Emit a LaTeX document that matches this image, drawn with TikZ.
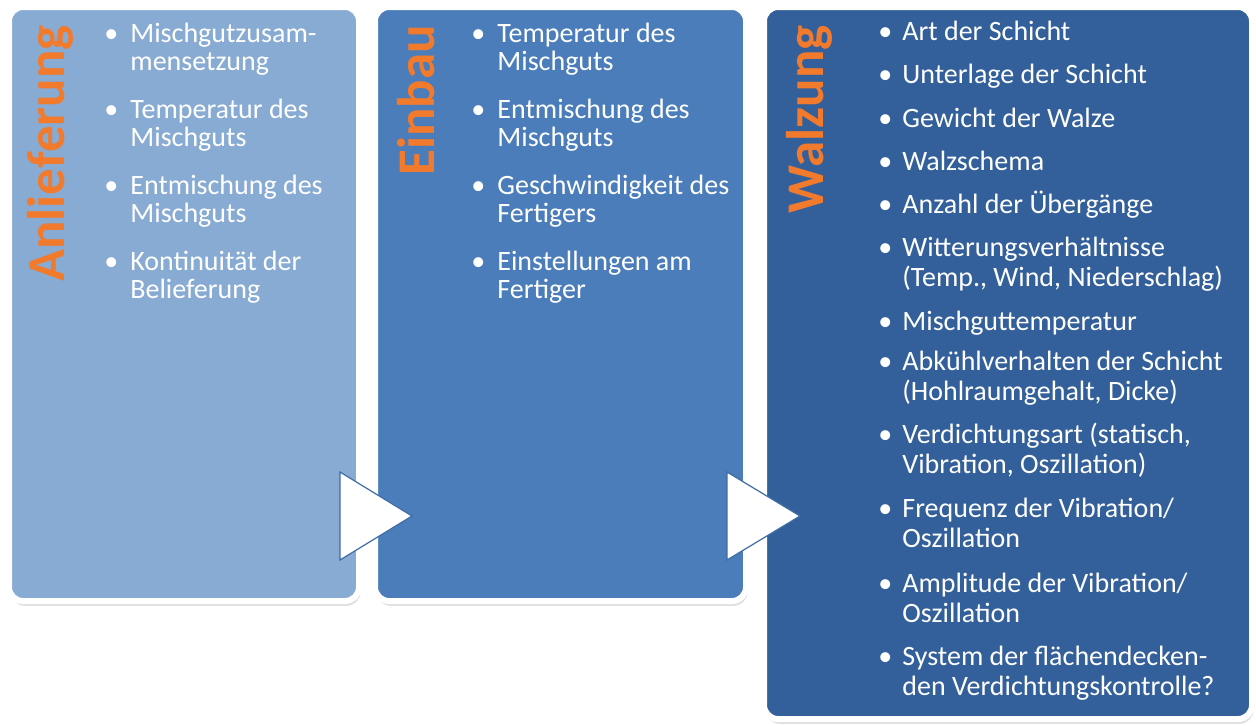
\documentclass[tikz,border=0pt]{standalone}
\usepackage{fontspec}
\setmainfont{Carlito}
\usepackage{tikz}
\usetikzlibrary{shadows,backgrounds}
\definecolor{anlblue}{HTML}{88ABD3}
\definecolor{einblue}{HTML}{4A7DBA}
\definecolor{walblue}{HTML}{33609A}
\definecolor{rimblue}{HTML}{3E6DA6}
\definecolor{titleorange}{HTML}{F27A2C}
\newcommand{\rim}{3pt}
\newcommand{\corner}{7pt}
\newcommand{\itemfont}{\fontsize{14}{14}\selectfont}
\newcommand{\walzfont}{\fontsize{14}{15}\selectfont}
\newcommand{\titlefont}{\fontsize{26.5}{30}\selectfont\bfseries}
\newcommand{\bul}[2]{\llap{\textbullet\hspace{#1}}\begin{tabular}[t]{@{}l@{}}#2\end{tabular}}

\begin{document}
\begin{tikzpicture}[x=0.5pt,y=-0.5pt,
  panel/.style={draw=white,line width=\rim,rounded corners=\corner,
    drop shadow={shadow xshift=0.8pt,shadow yshift=-2.4pt,opacity=0.25}},
  title/.style={rotate=90,anchor=base east,inner sep=0pt,text=titleorange,font=\titlefont},
  entry/.style={anchor=base west,inner sep=0pt,text=white,font=\itemfont},
  wentry/.style={anchor=base west,inner sep=0pt,text=white,font=\walzfont},
  tri/.style={fill=white,draw=rimblue,line width=0.6pt,line join=miter}]
\useasboundingbox[fill=white] (0,0) rectangle (1256,725);
%panels
\path[panel,fill=anlblue] (9,7) rectangle (359,601);
\path[panel,fill=einblue] (375,7) rectangle (746,601);
\path[panel,fill=walblue] (764,7) rectangle (1252,719);
%titles
\node[title] (t1) at (64,25) {Anlieferung};
\node[title] (t2) at (434,25) {Einbau};
\node[title] (t3) at (823,25) {Walzung};
%Anlieferung
\node[entry] (a1) at (130,42) {\bul{6pt}{Mischgutzusam-\\mensetzung}};
\node[entry] (a2) at (130,118) {\bul{6pt}{Temperatur des\\Mischguts}};
\node[entry] (a3) at (130,194) {\bul{6pt}{Entmischung des\\Mischguts}};
\node[entry] (a4) at (130,270) {\bul{6pt}{Kontinuität der\\Belieferung}};
%Einbau
\node[entry] (e1) at (497,42) {\bul{6pt}{Temperatur des\\Mischguts}};
\node[entry] (e2) at (497,118) {\bul{6pt}{Entmischung des\\Mischguts}};
\node[entry] (e3) at (497,194) {\bul{6pt}{Geschwindigkeit des\\Fertigers}};
\node[entry] (e4) at (497,270) {\bul{6pt}{Einstellungen am\\Fertiger}};
%Walzung
\node[wentry] (w1) at (902,40) {\bul{5pt}{Art der Schicht}};
\node[wentry] (w2) at (902,83) {\bul{5pt}{Unterlage der Schicht}};
\node[wentry] (w3) at (902,127) {\bul{5pt}{Gewicht der Walze}};
\node[wentry] (w4) at (902,170) {\bul{5pt}{Walzschema}};
\node[wentry] (w5) at (902,213) {\bul{5pt}{Anzahl der Übergänge}};
\node[wentry] (w6) at (902,256) {\bul{5pt}{Witterungsverhältnisse\\(Temp., Wind, Niederschlag)}};
\node[wentry] (w7) at (902,330) {\bul{5pt}{Mischguttemperatur}};
\node[wentry] (w8) at (902,370) {\bul{5pt}{Abkühlverhalten der Schicht\\(Hohlraumgehalt, Dicke)}};
\node[wentry] (w9) at (902,443) {\bul{5pt}{Verdichtungsart (statisch,\\Vibration, Oszillation)}};
\node[wentry] (w10) at (902,517) {\bul{5pt}{Frequenz der Vibration/\\Oszillation}};
\node[wentry] (w11) at (902,592) {\bul{5pt}{Amplitude der Vibration/\\Oszillation}};
\node[wentry] (w12) at (902,665) {\bul{5pt}{System der flächendecken-\\den Verdichtungskontrolle?}};
%arrows
\draw[tri] (340,472) -- (412,516) -- (340,560) -- cycle;
\draw[tri] (727,472) -- (800,516) -- (727,560) -- cycle;
\end{tikzpicture}
\end{document}
